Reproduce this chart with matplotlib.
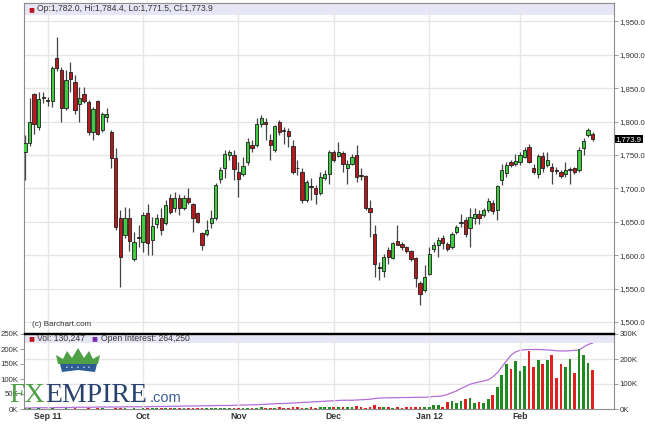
import matplotlib.pyplot as plt
from matplotlib.patches import Rectangle, Polygon
from matplotlib.ticker import FuncFormatter
from matplotlib.transforms import blended_transform_factory
import numpy as np

plt.rcParams['font.family'] = ['Liberation Sans', 'DejaVu Sans']

# daily gold futures, Aug 25 2011 .. Feb 24 2012
opens = [1755, 1768, 1841, 1792, 1836, 1833, 1831, 1895, 1878, 1821,
         1875, 1860, 1827, 1842, 1829, 1784, 1831, 1787, 1807, 1785,
         1746, 1655, 1630, 1655, 1595, 1627, 1620, 1663, 1623, 1646,
         1655, 1648, 1686, 1671, 1686, 1670, 1686, 1676, 1663, 1633,
         1631, 1648, 1655, 1714, 1730, 1750, 1750, 1725, 1721, 1740,
         1765, 1765, 1797, 1799, 1772, 1758, 1800, 1787, 1786, 1764,
         1731, 1725, 1683, 1703, 1701, 1693, 1716, 1721, 1755, 1748,
         1753, 1730, 1736, 1750, 1720, 1718, 1670, 1632, 1582, 1576,
         1608, 1596, 1621, 1617, 1612, 1607, 1596, 1558, 1548, 1572,
         1610, 1615, 1625, 1617, 1612, 1634, 1648, 1652, 1641, 1655,
         1662, 1660, 1667, 1678, 1667, 1712, 1723, 1740, 1736, 1740,
         1747, 1762, 1730, 1722, 1748, 1735, 1732, 1727, 1725, 1722,
         1728, 1730, 1727, 1761, 1780, 1782.0]
highs = [1780, 1835, 1843, 1845, 1845, 1837, 1884, 1926, 1882, 1878,
         1890, 1870, 1852, 1852, 1832, 1822, 1833, 1815, 1820, 1787,
         1760, 1668, 1672, 1670, 1635, 1645, 1665, 1677, 1657, 1662,
         1670, 1682, 1692, 1695, 1692, 1690, 1700, 1678, 1665, 1635,
         1652, 1667, 1708, 1732, 1757, 1758, 1757, 1740, 1747, 1775,
         1772, 1805, 1810, 1805, 1782, 1795, 1802, 1792, 1790, 1772,
         1742, 1730, 1712, 1715, 1705, 1725, 1727, 1757, 1757, 1770,
         1756, 1742, 1752, 1765, 1730, 1720, 1682, 1645, 1590, 1602,
         1612, 1620, 1645, 1620, 1614, 1608, 1598, 1562, 1585, 1612,
         1620, 1627, 1630, 1620, 1635, 1645, 1662, 1657, 1671, 1670,
         1667, 1671, 1685, 1682, 1705, 1737, 1740, 1742, 1752, 1755,
         1762, 1766, 1737, 1752, 1755, 1755, 1738, 1732, 1728, 1740,
         1732, 1732, 1762, 1775, 1790, 1784.4]
lows = [1712, 1763, 1782, 1788, 1828, 1823, 1822, 1876, 1800, 1818,
        1845, 1812, 1800, 1828, 1780, 1772, 1780, 1785, 1800, 1730,
        1638, 1552, 1625, 1607, 1592, 1612, 1605, 1600, 1600, 1640,
        1630, 1645, 1662, 1665, 1660, 1668, 1676, 1635, 1648, 1608,
        1628, 1640, 1652, 1708, 1715, 1742, 1712, 1687, 1718, 1735,
        1755, 1762, 1792, 1772, 1742, 1755, 1780, 1767, 1762, 1722,
        1720, 1678, 1680, 1682, 1677, 1690, 1712, 1707, 1740, 1747,
        1725, 1707, 1735, 1710, 1713, 1667, 1627, 1567, 1563, 1567,
        1587, 1594, 1615, 1608, 1604, 1592, 1552, 1525, 1545, 1570,
        1605, 1597, 1610, 1606, 1610, 1632, 1642, 1627, 1612, 1647,
        1647, 1657, 1665, 1662, 1652, 1705, 1717, 1732, 1733, 1735,
        1745, 1738, 1722, 1715, 1725, 1732, 1707, 1722, 1715, 1717,
        1707, 1722, 1725, 1750, 1777, 1771.5]
closes = [1768, 1800, 1796, 1834, 1837, 1831, 1881, 1880, 1821, 1862,
          1864, 1817, 1835, 1831, 1785, 1819, 1782, 1812, 1812, 1745,
          1642, 1597, 1655, 1621, 1620, 1626, 1660, 1618, 1643, 1656,
          1638, 1675, 1665, 1686, 1671, 1686, 1680, 1655, 1650, 1616,
          1638, 1655, 1705, 1727, 1752, 1755, 1729, 1714, 1733, 1770,
          1760, 1796, 1805, 1796, 1765, 1793, 1784, 1786, 1779, 1725,
          1730, 1683, 1710, 1702, 1692, 1717, 1721, 1755, 1742, 1755,
          1737, 1736, 1747, 1717, 1719, 1670, 1665, 1587, 1581, 1598,
          1597, 1618, 1616, 1612, 1607, 1595, 1566, 1542, 1568, 1602,
          1615, 1622, 1618, 1610, 1632, 1642, 1649, 1632, 1657, 1662,
          1656, 1667, 1681, 1666, 1703, 1728, 1735, 1735, 1741, 1750,
          1758, 1740, 1725, 1748, 1731, 1742, 1726, 1726, 1718, 1728,
          1729, 1725, 1758, 1771, 1787, 1773.9]
# volume and open interest, thousands
volume_k = [2, 2, 1, 2, 1,
            1, 2, 1, 1, 2, 1, 2, 1, 1, 2, 1, 2, 2, 1, 1, 2, 3, 2, 1, 2, 1,
            2, 3, 2, 2, 3, 2, 3, 2, 2, 3, 2, 3, 2, 2, 3, 3, 2, 3, 3, 2, 3,
            4, 3, 5, 4, 5, 6, 4, 5, 4, 6, 5, 4, 6, 7, 5, 4, 6, 5, 7, 8, 6,
            6, 8, 7, 6, 7, 9, 6, 5, 8, 12, 8, 7, 6, 5, 6, 5, 6, 7, 8, 6, 7,
            6,
            14, 12, 7, 23, 26, 20, 27, 33, 38, 20, 23, 20, 32, 46, 73, 114,
            151, 134, 159, 126, 143, 192, 140, 162, 151, 162, 179, 104, 149,
            140, 168, 120, 201, 179, 154, 131]
open_interest_k = [4, 4, 5, 5, 5,
                   5, 5, 6, 6, 6, 6, 7, 7, 7, 7, 7, 8, 8, 8, 8, 8, 8, 9, 9, 9, 9,
                   9, 9, 10, 10, 10, 10, 11, 11, 11, 12, 12, 12, 12, 13, 13, 13, 14, 14, 14, 14, 15,
                   15, 16, 16, 17, 17, 18, 19, 20, 21, 22, 22, 23, 24, 25, 26, 27, 28, 29, 30, 31, 32,
                   33, 34, 35, 35, 35, 36, 37, 38, 39, 42, 44, 44, 45, 45, 45, 46, 46, 46, 47, 47, 47,
                   48,
                   50, 51, 53, 58, 65, 72, 82, 90, 99, 104, 108, 112, 117, 128, 145, 168,
                   192, 215, 228, 235, 237, 238, 238, 238, 237, 236, 235, 233, 232, 232,
                   233, 235, 236, 248, 258, 264]
month_labels = ['Sep 11', 'Oct', 'Nov', 'Dec', 'Jan 12', 'Feb']
month_starts = [5, 26, 47, 68, 89, 109]
price_ticks = [1500, 1550, 1600, 1650, 1700, 1750, 1800, 1850, 1900, 1950]

o = np.array(opens); h = np.array(highs); l = np.array(lows); c = np.array(closes)
x = np.arange(len(o))
up = c >= o

W, H = 645, 424
fig = plt.figure(figsize=(6.45, 4.24), dpi=100, facecolor='white')

def px(x0, y0, w, hgt):
    return [x0 / W, 1 - (y0 + hgt) / H, w / W, hgt / H]

grid_c = '#e6e6e6'
spine_c = '#8c8c8c'
lab_fs = 5.6
xl = (-0.22, 129.7)

# ---- price panel
ax = fig.add_axes(px(24, 3, 590, 330))
ax.set_xlim(*xl)
ax.set_ylim(1483.5, 1977.6)
ax.add_patch(Rectangle((0, 0.9636), 1, 0.0364, transform=ax.transAxes,
                       facecolor='#e6e6f6', edgecolor='none', zorder=0))
for v in price_ticks:
    ax.axhline(v, color=grid_c, lw=1, zorder=0.5)
for m in month_starts:
    ax.axvline(m, color=grid_c, lw=1, zorder=0.5)

ax.vlines(x, l, h, color='#444444', lw=0.9, zorder=2)
body_col = np.where(up, '#3fcc3f', '#b8191c')
ax.bar(x, np.maximum(np.abs(c - o), 0.8), bottom=np.minimum(o, c), width=0.72,
       color=body_col, edgecolor='#1e1e1e', linewidth=0.6, zorder=3)

ax.yaxis.tick_right()
ax.set_yticks(price_ticks)
ax.yaxis.set_major_formatter(FuncFormatter(lambda v, p: f'{v:,.1f}'))
ax.tick_params(axis='y', right=True, left=False, length=3, width=0.6,
               color=spine_c, labelsize=lab_fs, labelcolor='#333333', pad=1)
ax.tick_params(axis='x', bottom=False, labelbottom=False)
for s in ['top', 'left', 'right']:
    ax.spines[s].set_color(spine_c)
ax.spines['bottom'].set_color('black')
ax.spines['bottom'].set_linewidth(1.0)

trans = blended_transform_factory(ax.transAxes, ax.transData)
ax.text(1.003, c[-1], f'{c[-1]:,.1f}', transform=trans, va='center', ha='left',
        fontsize=lab_fs, color='white',
        bbox=dict(boxstyle='square,pad=0.12', facecolor='black', edgecolor='none'))

ax.text(0.007, 0.982, '\u25a0', transform=ax.transAxes, color='#c0151a',
        fontsize=7, va='center', ha='left')
ax.text(0.022, 0.982,
        f'Op:{o[-1]:,.1f}, Hi:{h[-1]:,.1f}, Lo:{l[-1]:,.1f}, Cl:{c[-1]:,.1f}',
        transform=ax.transAxes, fontsize=6.2, color='#333333', va='center', ha='left')
ax.text(0.013, 0.027, '(c) Barchart.com', transform=ax.transAxes,
        fontsize=5.8, color='#333333', va='center', ha='left')

# ---- volume / open interest panel
axv = fig.add_axes(px(24, 334, 590, 75))
axv.set_xlim(*xl)
axv.set_ylim(0, 250)
axv.add_patch(Rectangle((0, 0.88), 1, 0.12, transform=axv.transAxes,
                        facecolor='#e6e6f6', edgecolor='none', zorder=0))
for m in month_starts:
    axv.axvline(m, color=grid_c, lw=1, zorder=0.5)
vol_col = np.where(up, '#1f8a1f', '#e0201f')
axv.bar(x, volume_k, width=0.6, color=vol_col, zorder=2)
axv.set_yticks([0, 50, 100, 150, 200, 250])
axv.yaxis.set_major_formatter(FuncFormatter(lambda v, p: f'{v:.0f}K'))
axv.tick_params(axis='y', length=3, width=0.6, color=spine_c, labelsize=lab_fs,
                labelcolor='#333333', pad=1)
axv.set_xticks(month_starts)
axv.set_xticklabels(month_labels, fontweight='bold')
axv.tick_params(axis='x', length=0, labelsize=6.2, labelcolor='#333333', pad=2)
for s in ['bottom', 'left', 'right']:
    axv.spines[s].set_color(spine_c)
axv.spines['top'].set_color('black')
axv.spines['top'].set_linewidth(1.0)

axo = axv.twinx()
axo.set_ylim(0, 300)
axo.plot(x, open_interest_k, color='#b46fd6', lw=0.9, zorder=3)
for v in [100, 200]:
    axo.axhline(v, color=grid_c, lw=1, zorder=0.4)
axo.set_yticks([0, 100, 200, 300])
axo.yaxis.set_major_formatter(FuncFormatter(lambda v, p: f'{v:.0f}K'))
axo.tick_params(axis='y', length=3, width=0.6, color=spine_c, labelsize=lab_fs,
                labelcolor='#333333', pad=1)
for s in axo.spines.values():
    s.set_visible(False)
axv.set_zorder(2); axo.set_zorder(1); axv.patch.set_visible(False)

axv.text(0.007, 0.94, '\u25a0', transform=axv.transAxes, color='#c0151a',
         fontsize=7, va='center', ha='left')
axv.text(0.022, 0.94, 'Vol: 130,247', transform=axv.transAxes, fontsize=6.2,
         color='#333333', va='center', ha='left')
axv.text(0.115, 0.94, '\u25a0', transform=axv.transAxes, color='#7a2aa8',
         fontsize=7, va='center', ha='left')
axv.text(0.131, 0.94, 'Open Interest: 264,250', transform=axv.transAxes,
         fontsize=6.2, color='#333333', va='center', ha='left')

# ---- FXEMPIRE watermark
def fp(xp, yp):
    return (xp / W, 1 - yp / H)

crown = [(58, 364), (56, 355), (63, 359), (67, 351), (72, 358), (78, 348),
         (84, 358), (89, 351), (93, 359), (100, 355), (98, 364)]
fig.add_artist(Polygon([fp(*p) for p in crown], closed=True, transform=fig.transFigure,
                       facecolor='#4f9f46', edgecolor='none', zorder=10))
band = [(60, 364), (97, 364), (95, 372), (78, 370), (62, 372)]
fig.add_artist(Polygon([fp(*p) for p in band], closed=True, transform=fig.transFigure,
                       facecolor='#2d5b96', edgecolor='none', zorder=10))
for xd in [67, 72, 78, 84, 89]:
    fig.text(*fp(xd, 367.5), '\u2022', color='white', fontsize=3.5,
             ha='center', va='center', zorder=11)

fig.text(*fp(9, 402), 'FX', family='Liberation Serif', fontsize=20,
         color='#4f9f46', va='baseline', ha='left', zorder=10)
fig.text(*fp(45, 402), 'EMPIRE', family='Liberation Serif', fontsize=20,
         color='#27426e', va='baseline', ha='left', zorder=10)
fig.text(*fp(150, 402), '.com', fontsize=10.5, color='#3a5f98',
         va='baseline', ha='left', zorder=10)

fig.savefig('out.png', dpi=100, facecolor='white')
